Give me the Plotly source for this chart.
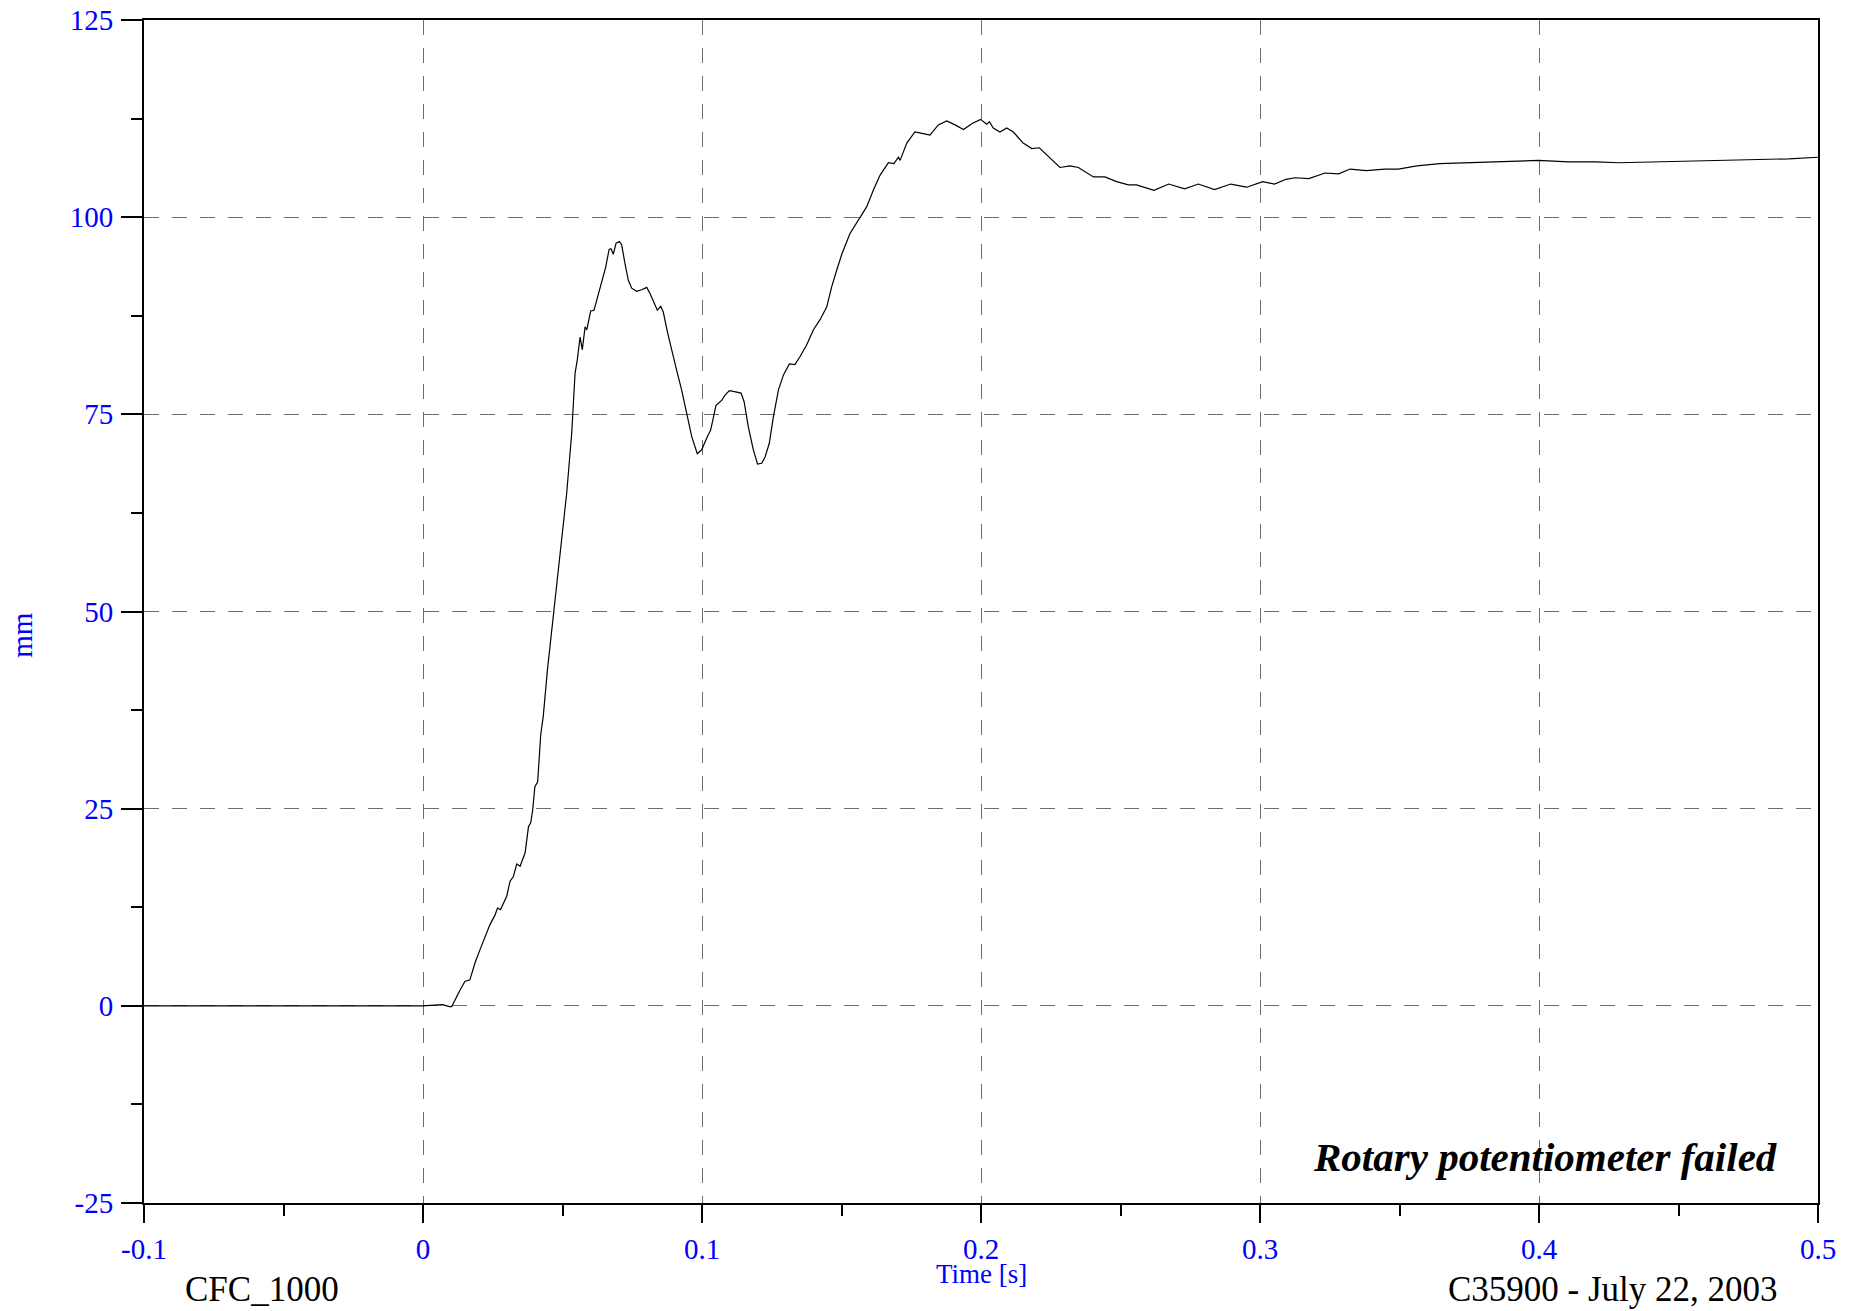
import plotly.graph_objects as go

# rotary potentiometer displacement
time_s = [
    -0.1, 0.0, 0.004, 0.007, 0.0095, 0.0103,
    0.0133, 0.015, 0.0168, 0.0186, 0.0204, 0.0222, 0.024, 0.0258, 0.0267, 0.0278,
    0.030, 0.0312, 0.0324, 0.0336, 0.0348, 0.0366, 0.0378, 0.0386, 0.0393, 0.0401,
    0.0411, 0.0422, 0.0431, 0.0446, 0.0461, 0.0473,
    0.0497, 0.0515, 0.0533, 0.0545, 0.0553, 0.0563, 0.0571, 0.0581, 0.0587, 0.0601,
    0.0613, 0.0628, 0.0640, 0.0655, 0.0667, 0.0674, 0.0682, 0.0692, 0.0704, 0.0712,
    0.0724, 0.0736, 0.0748, 0.0766, 0.0784, 0.0802, 0.0814, 0.0832, 0.0840, 0.0852,
    0.0861, 0.0877, 0.0891, 0.0909, 0.0927, 0.0945, 0.0963, 0.0983, 0.0999, 0.1017,
    0.1031, 0.1050, 0.1071, 0.1082, 0.1098, 0.1112, 0.1140, 0.1151, 0.1166, 0.1184,
    0.1199, 0.1214, 0.1226, 0.1241, 0.1256, 0.1274, 0.1292, 0.1313, 0.1333, 0.1351,
    0.1375, 0.1399, 0.1423, 0.1447, 0.1465, 0.1483, 0.1501, 0.1530, 0.1566, 0.1590,
    0.1614, 0.1638, 0.1668, 0.1688, 0.1704, 0.1710, 0.1734, 0.1763, 0.1793, 0.1817,
    0.1847, 0.1877, 0.1907, 0.1937, 0.1970, 0.1999, 0.2020, 0.2030, 0.2044, 0.2068,
    0.2092, 0.2116, 0.2151, 0.2182, 0.2209, 0.2247, 0.2283, 0.2319, 0.2349, 0.2403,
    0.2444, 0.2486, 0.2528, 0.2557, 0.2620, 0.2673, 0.2730, 0.2779, 0.2837, 0.2895,
    0.2952, 0.3010, 0.3052, 0.3093, 0.3126, 0.3175, 0.3233, 0.3282, 0.3323, 0.3381,
    0.3447, 0.3496, 0.3562, 0.3644, 0.3743, 0.3858, 0.3998, 0.4105, 0.4204, 0.4286,
    0.4402, 0.4566, 0.4731, 0.4895, 0.5,
]
disp_mm = [
    0.0, 0.0, 0.1, 0.15, -0.1, -0.1,
    2.0, 3.1, 3.3, 5.4, 7.1, 8.8, 10.3, 11.5, 12.4, 12.2,
    13.9, 15.8, 16.4, 18.0, 17.7, 19.4, 22.7, 23.2, 24.8, 27.8,
    28.4, 34.4, 36.7, 42.6, 47.3, 51.5,
    58.6, 65.0, 72.6, 80.2, 81.9, 84.8, 83.2, 86.1, 85.7, 88.1,
    88.2, 90.3, 91.6, 93.7, 95.9, 96.0, 95.3, 96.7, 96.9, 96.5,
    94.1, 92.0, 91.0, 90.6, 90.8, 91.1, 90.3, 88.9, 88.2, 88.7,
    88.0, 85.3, 83.4, 80.6, 78.1, 75.3, 72.2, 70.0, 70.5, 72.0,
    73.0, 76.1, 76.8, 77.4, 78.0, 77.9, 77.7, 76.6, 73.4, 70.5,
    68.7, 68.8, 69.6, 71.3, 74.7, 78.1, 80.0, 81.4, 81.3, 82.3,
    83.8, 85.7, 87.0, 88.6, 91.2, 93.3, 95.3, 97.9, 100.0, 101.3,
    103.4, 105.3, 106.9, 106.8, 107.6, 107.2, 109.4, 110.8, 110.6, 110.4,
    111.7, 112.2, 111.7, 111.1, 111.9, 112.4, 111.8, 112.1, 111.3, 110.8,
    111.3, 110.8, 109.4, 108.7, 108.8, 107.5, 106.3, 106.5, 106.3, 105.1,
    105.1, 104.5, 104.1, 104.1, 103.4, 104.2, 103.6, 104.2, 103.5, 104.2,
    103.8, 104.5, 104.2, 104.8, 105.0, 104.9, 105.6, 105.5, 106.1, 105.9,
    106.1, 106.1, 106.5, 106.8, 106.9, 107.0, 107.2, 107.0, 107.0, 106.9,
    107.0, 107.1, 107.3, 107.4, 107.6,
]

x_ticks = [-0.1, 0, 0.1, 0.2, 0.3, 0.4, 0.5]
x_labels = ["-0.1", "0", "0.1", "0.2", "0.3", "0.4", "0.5"]
y_ticks = [-25, 0, 25, 50, 75, 100, 125]
y_labels = ["-25", "0", "25", "50", "75", "100", "125"]

x_range = [-0.1, 0.5]
y_range = [-25, 125]

serif = "Liberation Serif, Times New Roman, serif"
blue = "#0000ff"
grid_col = "#6e6e6e"

fig = go.Figure()
fig.add_trace(go.Scatter(x=time_s, y=disp_mm, mode="lines",
                         line=dict(color="black", width=1.2), showlegend=False))

# page body adds an 8px margin, so the figure is 8px smaller and margins shifted
fig.update_layout(
    width=1856, height=1303,
    margin=dict(l=136, r=46, t=12, b=108, autoexpand=False),
    plot_bgcolor="white", paper_bgcolor="white",
    font=dict(family=serif, color="black"),
    xaxis=dict(range=x_range, tickvals=x_ticks, ticktext=x_labels, automargin=False,
               showline=True, linecolor="black", ticklabeloverflow="allow",
               linewidth=2, mirror=True, ticks="outside", ticklen=18, tickwidth=1.5,
               tickcolor="black", zeroline=False, showgrid=True, gridcolor=grid_col,
               gridwidth=1.3, griddash="15px,13px",
               tickfont=dict(family=serif, size=29, color=blue), ticklabelstandoff=1,
               minor=dict(dtick=0.05, tick0=0, ticks="outside", ticklen=11, tickwidth=1.5,
                          tickcolor="black", showgrid=False)),
    yaxis=dict(range=y_range, tickvals=y_ticks, ticktext=y_labels, automargin=False,
               showline=True, linecolor="black", ticklabeloverflow="allow",
               linewidth=2, mirror=True, ticks="outside", ticklen=21, tickwidth=1.5,
               tickcolor="black", zeroline=False, showgrid=True, gridcolor=grid_col,
               gridwidth=1.3, griddash="15px,13px",
               tickfont=dict(family=serif, size=29, color=blue), ticklabelstandoff=2,
               minor=dict(dtick=12.5, tick0=0, ticks="outside", ticklen=11, tickwidth=1.5,
                          tickcolor="black", showgrid=False)),
    # second pair of axes only for the inner half of the crossing ticks
    xaxis2=dict(range=x_range, dtick=0.1, tick0=0, overlaying="x", anchor="y", side="bottom",
                automargin=False, ticks="inside", ticklen=20, tickwidth=1.5, tickcolor="black",
                showticklabels=False, showgrid=False, showline=False, zeroline=False,
                minor=dict(dtick=0.05, tick0=0, ticks="inside", ticklen=11, tickwidth=1.5,
                           tickcolor="black", showgrid=False)),
    yaxis2=dict(range=y_range, dtick=25, tick0=0, overlaying="y", anchor="x", side="left",
                automargin=False, ticks="inside", ticklen=21, tickwidth=1.5, tickcolor="black",
                showticklabels=False, showgrid=False, showline=False, zeroline=False,
                minor=dict(dtick=12.5, tick0=0, ticks="inside", ticklen=11, tickwidth=1.5,
                           tickcolor="black", showgrid=False)),
)

fig.add_annotation(text="Time [s]", x=0.2, xref="x", y=-0.0598, yref="paper",
                   xanchor="center", yanchor="middle", showarrow=False,
                   font=dict(family=serif, size=27, color=blue))
fig.add_annotation(text="mm", x=-0.0725, xref="paper", y=0.48, yref="paper",
                   textangle=-90, xanchor="center", yanchor="middle", showarrow=False,
                   borderpad=0, font=dict(family=serif, size=29, color=blue))
fig.add_annotation(text="CFC_1000", x=0.0705, xref="paper", y=-0.0735, yref="paper",
                   xanchor="center", yanchor="middle", showarrow=False,
                   font=dict(family=serif, size=35, color="black"))
fig.add_annotation(text="C35900 - July 22, 2003", x=0.9773, xref="paper", y=-0.0735,
                   yref="paper", xanchor="right", yanchor="middle", showarrow=False,
                   font=dict(family=serif, size=35, color="black"))
fig.add_annotation(text="<b><i>Rotary potentiometer failed</i></b>", x=0.977, xref="paper",
                   y=0.039, yref="paper", xanchor="right", yanchor="middle", showarrow=False,
                   font=dict(family=serif, size=41, color="black"))

fig.write_html("out.html")
